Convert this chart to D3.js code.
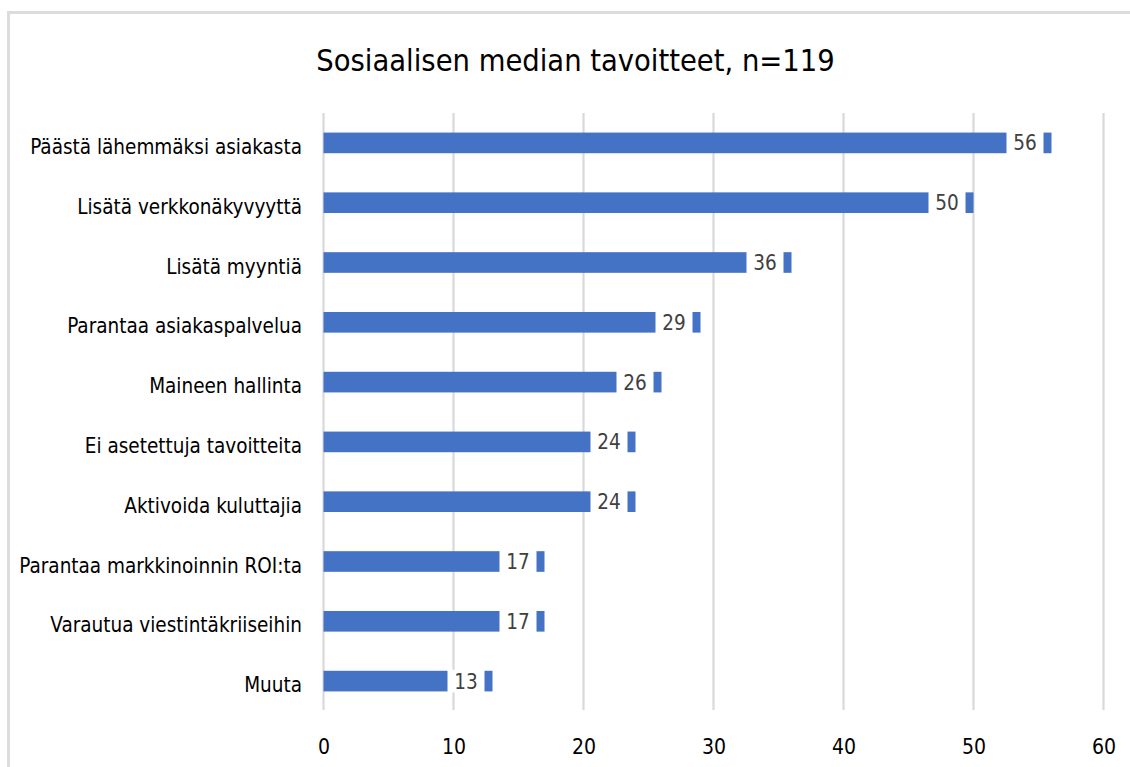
<!DOCTYPE html>
<html>
<head>
<meta charset="utf-8">
<script src="https://cdn.jsdelivr.net/npm/d3@7"></script>
<style>
  html, body { margin: 0; padding: 0; background: #fff; }
  svg { display: block; }
  text { font-family: "DejaVu Sans Condensed", "Liberation Sans Narrow", sans-serif; }
</style>
</head>
<body>
<svg id="chart" width="1130" height="767"></svg>
<script>
// Survey answers: goals set for social media (n=119)
const chartTitle = "Sosiaalisen median tavoitteet, n=119";
const categories = [
  "Päästä lähemmäksi asiakasta",
  "Lisätä verkkonäkyvyyttä",
  "Lisätä myyntiä",
  "Parantaa asiakaspalvelua",
  "Maineen hallinta",
  "Ei asetettuja tavoitteita",
  "Aktivoida kuluttajia",
  "Parantaa markkinoinnin ROI:ta",
  "Varautua viestintäkriiseihin",
  "Muuta"
];
const values = [56, 50, 36, 29, 26, 24, 24, 17, 17, 13];
const xTicks = [0, 10, 20, 30, 40, 50, 60];

const svg = d3.select("#chart");

// outer chart frame (extends past the window on the right and bottom)
svg.append("rect")
  .attr("x", 8.5).attr("y", 12.5)
  .attr("width", 1300).attr("height", 900)
  .attr("fill", "none")
  .attr("stroke", "#dcdcdc")
  .attr("stroke-width", 3);

const x = d3.scaleLinear().domain([0, 60]).range([323.5, 1103.5]);
const y = d3.scaleBand()
  .domain(categories)
  .range([113, 711])
  .paddingInner(0.655)
  .paddingOuter(0.3275);

// title
svg.append("text")
  .attr("x", 575.5).attr("y", 71)
  .attr("text-anchor", "middle")
  .attr("font-size", 30.5)
  .attr("fill", "#000")
  .text(chartTitle);

// vertical gridlines
svg.append("g")
  .selectAll("line")
  .data(xTicks)
  .join("line")
  .attr("x1", d => x(d)).attr("x2", d => x(d))
  .attr("y1", 113).attr("y2", 710)
  .attr("stroke", "#d9d9d9")
  .attr("stroke-width", 2.2);

// x axis tick labels
const xAxis = d3.axisBottom(x).tickValues(xTicks).tickSize(0).tickPadding(0);
const gx = svg.append("g").attr("transform", "translate(0,739)").call(xAxis);
gx.select(".domain").remove();
gx.selectAll("text")
  .attr("dy", "0.71em")
  .attr("font-size", 21)
  .attr("font-family", null)
  .attr("fill", "#000");

// category labels
const yAxis = d3.axisLeft(y).tickSize(0).tickPadding(0);
const gy = svg.append("g").attr("transform", "translate(302,4)").call(yAxis);
gy.select(".domain").remove();
gy.selectAll("text")
  .attr("font-size", 20.5)
  .attr("font-family", null)
  .attr("fill", "#000")
  .attr("dy", "0.35em");

// bars
svg.append("g")
  .selectAll("rect")
  .data(values)
  .join("rect")
  .attr("x", x(0))
  .attr("y", (d, i) => y(categories[i]))
  .attr("width", d => x(d) - x(0))
  .attr("height", y.bandwidth())
  .attr("fill", "#4472C4");

// value labels on white boxes near the bar ends
const lab = svg.append("g")
  .selectAll("g")
  .data(values)
  .join("g")
  .attr("transform", (d, i) => `translate(${x(d)},${y(categories[i]) + y.bandwidth() / 2})`);

lab.append("rect")
  .attr("x", -45).attr("y", -y.bandwidth() / 2 - 1)
  .attr("width", 37).attr("height", y.bandwidth() + 2)
  .attr("fill", "#fff");

lab.append("text")
  .attr("x", -26.5)
  .attr("y", 7.5)
  .attr("text-anchor", "middle")
  .attr("font-size", 20.5)
  .attr("fill", "#404040")
  .text(d => d);
</script>
</body>
</html>
